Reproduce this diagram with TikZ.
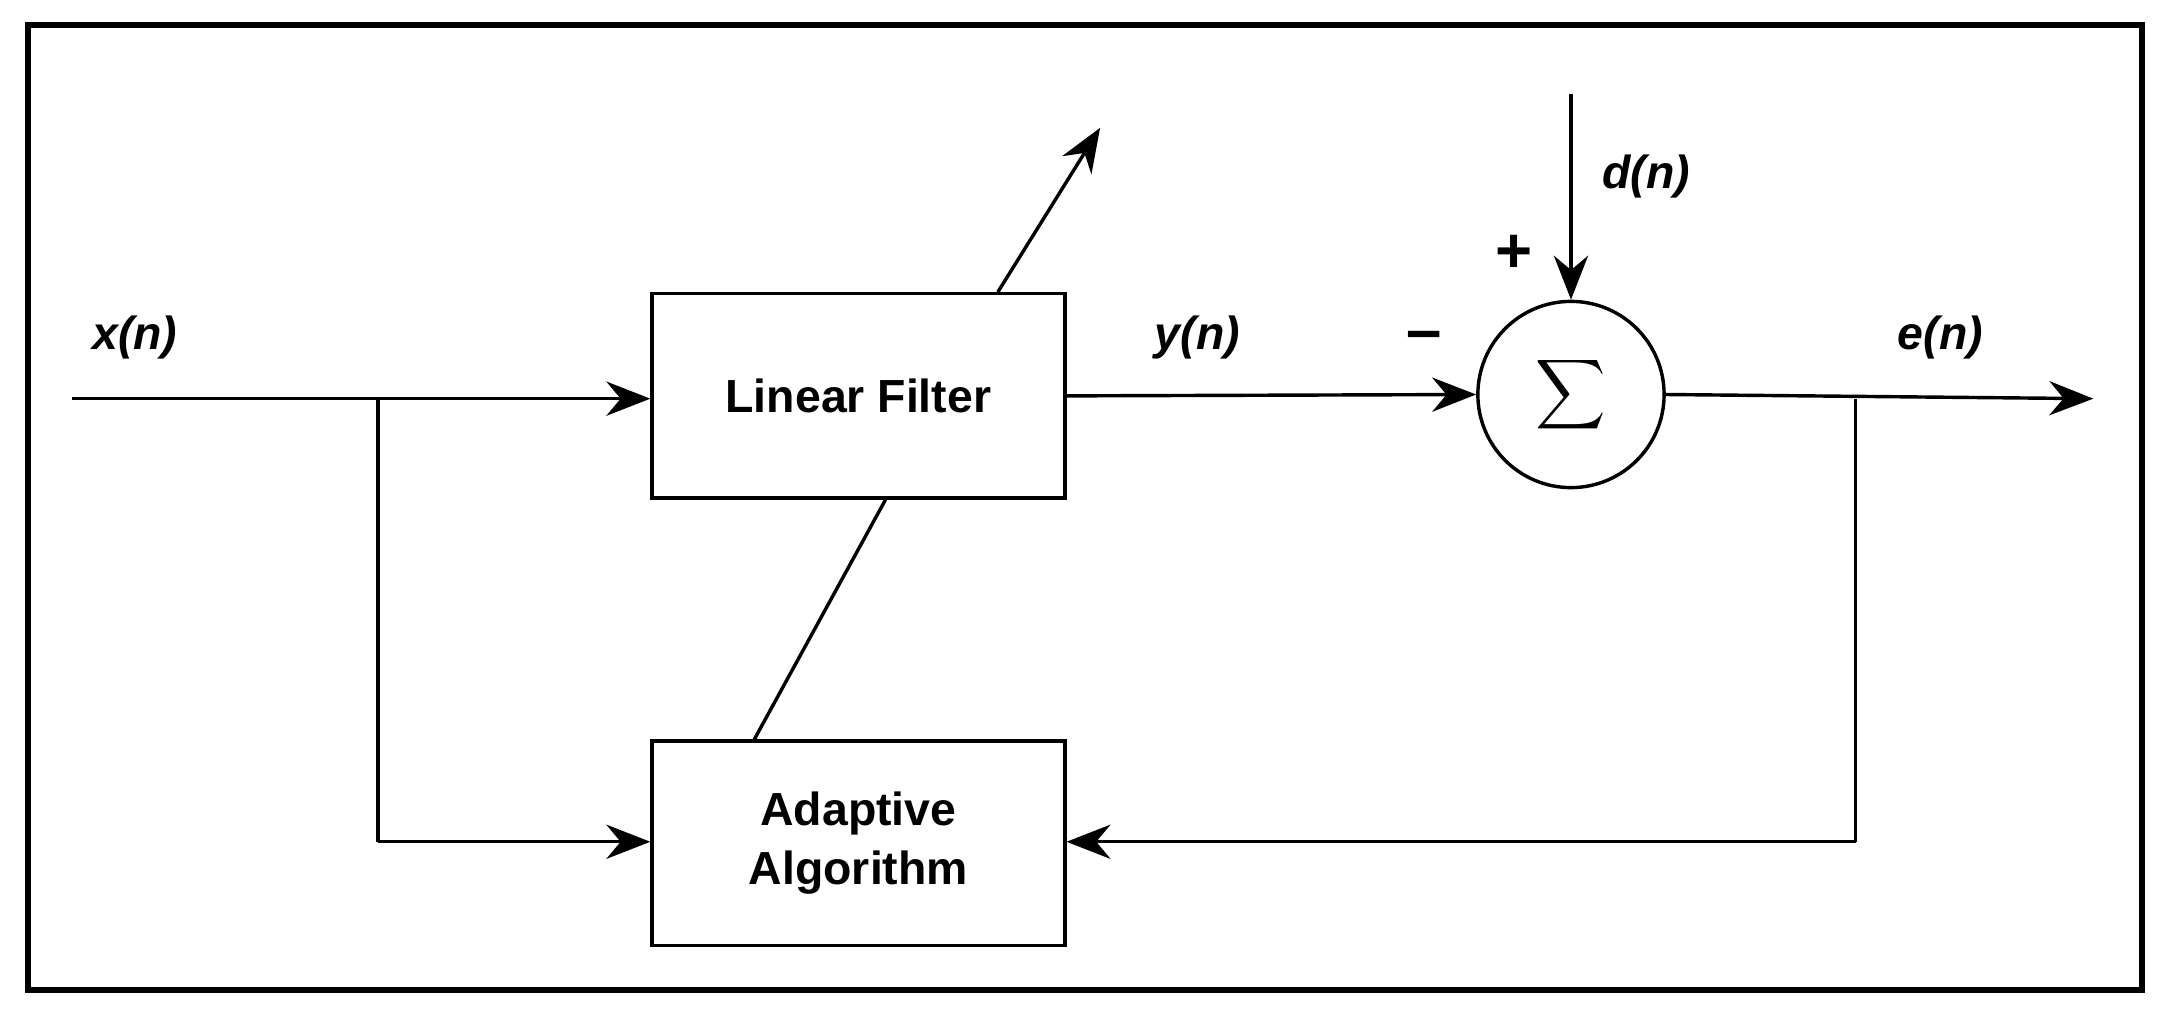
\documentclass[tikz,border=0pt]{standalone}
\usepackage{fontspec}
\setmainfont{Liberation Sans}
\usetikzlibrary{arrows.meta, calc}

\begin{document}
\begin{tikzpicture}[x=0.01cm, y=-0.01cm, >={Stealth[length=9pt, width=7pt]}]
    \tikzstyle{every path}=[line width=0.7pt]
    \tikzstyle{block}=[draw, fill=white, minimum width=2.97cm, minimum height=1.47cm, align=center, font=\fontsize{9.5}{12}\selectfont\bfseries]
    \tikzstyle{sumnode}=[draw, circle, minimum size=1.34cm, inner sep=0pt]
    \tikzstyle{sig}=[font=\fontsize{9.5}{12}\selectfont\bfseries\itshape]
    \useasboundingbox (0,0) rectangle (1568,741);
    \draw[line width=1.2pt] (20,18) rectangle (1542,713);
    \node [block] (filter) at (618,285) {Linear Filter};
    \node [block] (adapt) at (618,607) {Adaptive\\Algorithm};
    \node [sumnode] (sum) at (1131,284) {\fontsize{24}{26}\selectfont$\displaystyle\sum$};
    \coordinate (in) at (52,287);
    \coordinate (xsplit) at (272,287);
    \coordinate (xdown) at (272,606);
    \coordinate (dtop) at (1131,68);
    \coordinate (out) at (1507,287);
    \coordinate (esplit) at (1336,287);
    \coordinate (edown) at (1336,606);
    \coordinate (tip) at (792,92);
    % signals
    \draw[->] (in) -- (filter.west |- in);
    \draw (xsplit) -- (xdown);
    \draw[->] (xdown) -- (adapt.west |- xdown);
    \draw[->] (filter.east) -- (sum.west);
    \draw[->] (dtop) -- (sum.north);
    \draw[->] (sum.east) -- (out);
    \draw (esplit) -- (edown);
    \draw[->] (edown) -- (adapt.east |- edown);
    % adaptation
    \draw ($(adapt.north west)!0.25!(adapt.north east)$) -- ($(filter.south west)!0.565!(filter.south east)$);
    \draw[->] ($(filter.north west)!0.835!(filter.north east)$) -- (tip);
    % labels
    \node [sig] (xl) at (97,243) {x(n)};
    \node [sig] (yl) at (862,243) {y(n)};
    \node [sig] (el) at (1397,243) {e(n)};
    \node [sig] (dl) at (1185,127) {d(n)};
    \node [font=\fontsize{13}{14}\selectfont\bfseries] (plus) at (1090,183) {+};
    \node [font=\fontsize{13}{14}\selectfont\bfseries] (minus) at (1025,246) {--};
\end{tikzpicture}
\end{document}
